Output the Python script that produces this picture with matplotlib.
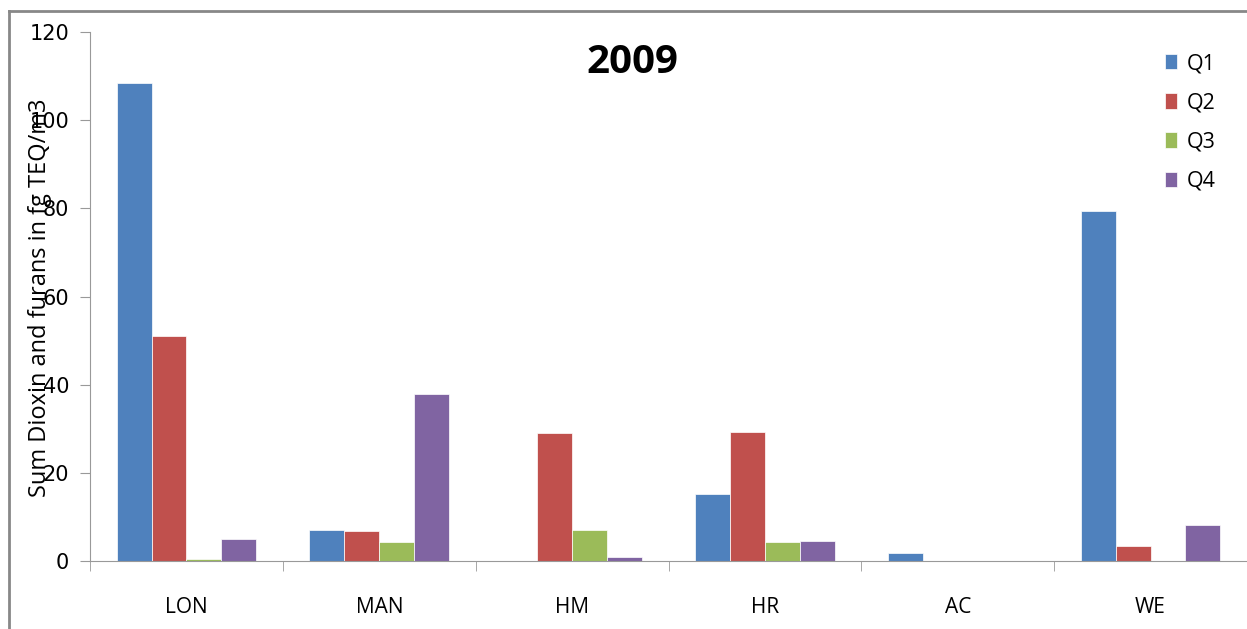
import numpy as np
import matplotlib.pyplot as plt
from matplotlib.lines import Line2D

# Data
sites = ['LON', 'MAN', 'HM', 'HR', 'AC', 'WE']
quarters = ['Q1', 'Q2', 'Q3', 'Q4']
q1 = [108.4, 7.0, 0.0, 15.2, 1.9, 79.4]
q2 = [51.0, 6.8, 29.0, 29.3, 0.0, 3.4]
q3 = [0.5, 4.3, 7.0, 4.3, 0.0, 0.0]
q4 = [5.0, 37.9, 1.0, 4.5, 0.0, 8.2]
colors = ['#4F81BD', '#C0504D', '#9BBB59', '#8064A2']

plt.rcParams['font.family'] = ['Open Sans', 'DejaVu Sans']

fig = plt.figure(figsize=(12.47, 6.29), dpi=100)
ax = fig.add_axes([0.0722, 0.108, 0.9278, 0.841])

x = np.arange(len(sites))
w = 0.181
for i, (vals, lab) in enumerate(zip([q1, q2, q3, q4], quarters)):
    ax.bar(x + (i - 1.5) * w, vals, w, color=colors[i], label=lab,
           edgecolor='white', linewidth=0.5)

ax.set_xlim(-0.5, len(sites) - 0.5)
ax.set_ylim(0, 120)
ax.set_yticks(range(0, 121, 20))
ax.set_xticks(x)
ax.set_xticklabels(sites, fontsize=15)
ax.set_xticks(np.arange(-0.5, len(sites), 1), minor=True)
ax.tick_params(axis='x', which='major', length=0, pad=26)
ax.tick_params(axis='x', which='minor', length=7, color='#999999')
ax.tick_params(axis='y', length=7, color='#999999', labelsize=16, pad=8)
for t in ax.get_yticklabels():
    t.set_family(['DejaVu Sans'])
    t.set_fontsize(15)

for s in ['top', 'right']:
    ax.spines[s].set_visible(False)
for s in ['left', 'bottom']:
    ax.spines[s].set_color('#999999')

# axis title sits on top of the tick labels, as in the original
fig.text(0.032, 0.527, 'Sum Dioxin and furans in fg TEQ/m3',
         rotation=90, va='center', ha='center', fontsize=17)
fig.text(0.507, 0.9, '2009', fontsize=29, fontweight='bold',
         ha='center', va='center')

leg = ax.legend(loc='upper right', bbox_to_anchor=(0.99, 0.997), frameon=False,
                fontsize=15.5, handlelength=0.6, handleheight=0.75,
                labelspacing=0.85, handletextpad=0.45)

# outer border (left and top visible)
fig.add_artist(Line2D([0.0075, 0.0075], [0, 0.983], color='#888888', lw=2,
                      transform=fig.transFigure))
fig.add_artist(Line2D([0.0075, 1], [0.983, 0.983], color='#888888', lw=2,
                      transform=fig.transFigure))

fig.savefig('out.png', dpi=100)
